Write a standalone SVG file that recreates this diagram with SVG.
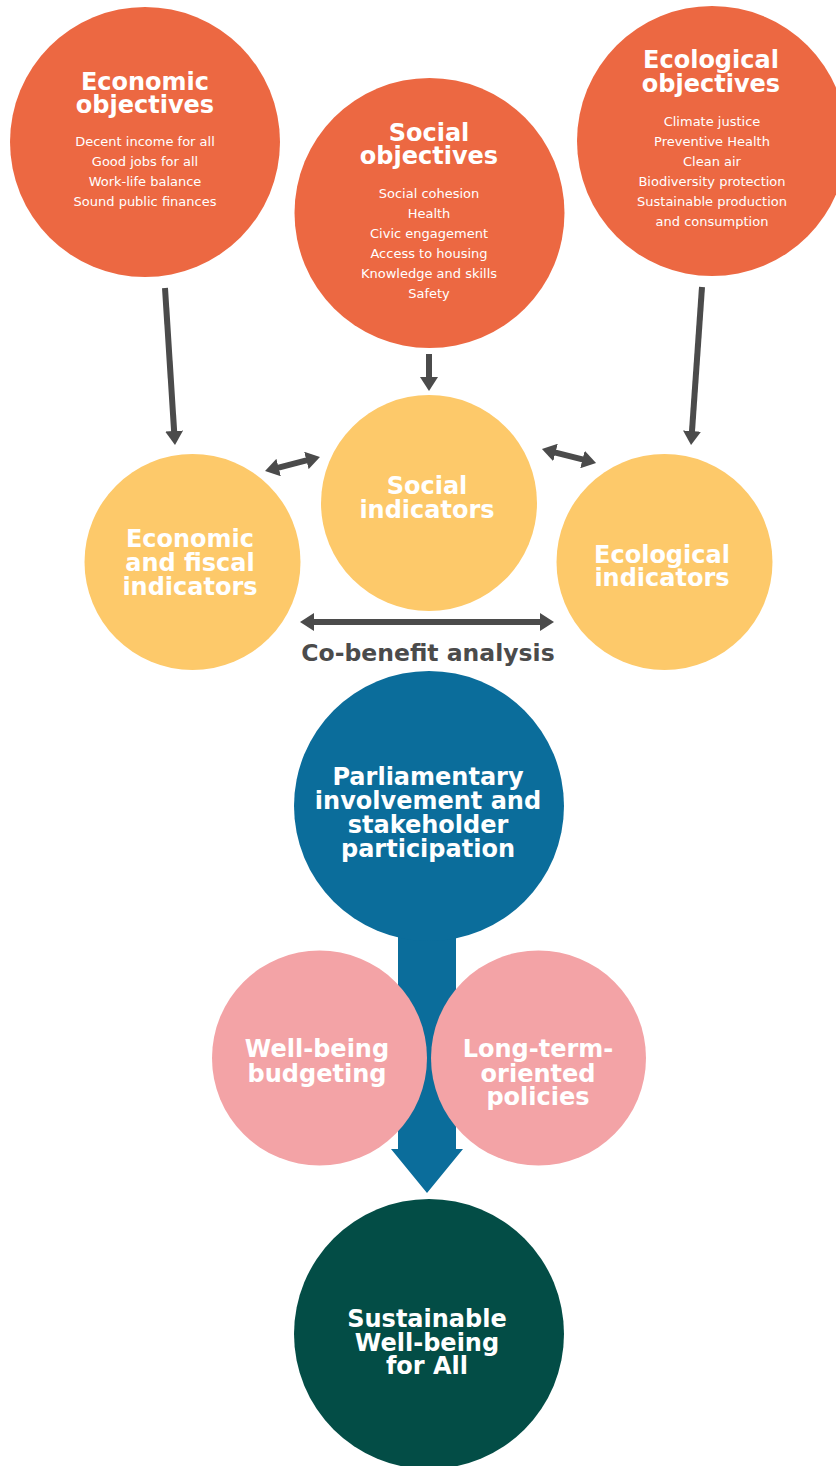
<svg xmlns="http://www.w3.org/2000/svg" width="836" height="1466" viewBox="0 0 836 1466">
<style>
.obj{fill:#EC6842}
.ind{fill:#FDC96A}
.pink{fill:#F3A3A6}
.t{font-family:"DejaVu Sans","Liberation Sans",sans-serif;font-weight:bold;font-size:24px;fill:#fff;text-anchor:middle}
.s{font-family:"DejaVu Sans","Liberation Sans",sans-serif;font-size:13px;fill:#fff;text-anchor:middle}
.ar{stroke:#4B4B4B;stroke-width:6;fill:none}
.lbl{font-family:"DejaVu Sans","Liberation Sans",sans-serif;font-weight:bold;font-size:23.5px;fill:#4B4B4B;text-anchor:middle}
</style>
<defs>
<marker id="ah" viewBox="0 0 14 18" refX="3" refY="9" markerWidth="14" markerHeight="18" markerUnits="userSpaceOnUse" orient="auto-start-reverse">
<path d="M0,0 L14,9 L0,18 Z" fill="#4B4B4B"/>
</marker>
</defs>
<rect width="836" height="1466" fill="#fff"/>

<g id="economic-objectives">
<circle class="obj" cx="145" cy="142" r="135"/>
<text class="t"><tspan x="145" y="90">Economic</tspan><tspan x="145" y="113">objectives</tspan></text>
<text class="s"><tspan x="145" y="146">Decent income for all</tspan><tspan x="145" y="166">Good jobs for all</tspan><tspan x="145" y="186">Work-life balance</tspan><tspan x="145" y="206">Sound public finances</tspan></text>
</g>

<g id="social-objectives">
<circle class="obj" cx="429.5" cy="213" r="135"/>
<text class="t"><tspan x="429" y="141">Social</tspan><tspan x="429" y="164">objectives</tspan></text>
<text class="s"><tspan x="429" y="198">Social cohesion</tspan><tspan x="429" y="218">Health</tspan><tspan x="429" y="238">Civic engagement</tspan><tspan x="429" y="258">Access to housing</tspan><tspan x="429" y="278">Knowledge and skills</tspan><tspan x="429" y="298">Safety</tspan></text>
</g>

<g id="ecological-objectives">
<circle class="obj" cx="712" cy="141" r="135"/>
<text class="t"><tspan x="711" y="68">Ecological</tspan><tspan x="711" y="92">objectives</tspan></text>
<text class="s"><tspan x="712" y="126">Climate justice</tspan><tspan x="712" y="146">Preventive Health</tspan><tspan x="712" y="166">Clean air</tspan><tspan x="712" y="186">Biodiversity protection</tspan><tspan x="712" y="206">Sustainable production</tspan><tspan x="712" y="226">and consumption</tspan></text>
</g>

<g id="social-indicators">
<circle class="ind" cx="429" cy="503" r="108"/>
<text class="t"><tspan x="427" y="494">Social</tspan><tspan x="427" y="518">indicators</tspan></text>
</g>

<g id="economic-indicators">
<circle class="ind" cx="192.5" cy="562" r="108"/>
<text class="t"><tspan x="190" y="547">Economic</tspan><tspan x="190" y="571">and fiscal</tspan><tspan x="190" y="595">indicators</tspan></text>
</g>

<g id="ecological-indicators">
<circle class="ind" cx="664.5" cy="562" r="108"/>
<text class="t"><tspan x="662" y="563">Ecological</tspan><tspan x="662" y="586">indicators</tspan></text>
</g>

<g id="connectors">
<line class="ar" x1="165" y1="288" x2="174.3" y2="434" marker-end="url(#ah)"/>
<line class="ar" x1="702" y1="287" x2="691.8" y2="434" marker-end="url(#ah)"/>
<line class="ar" x1="429" y1="354" x2="429" y2="380" marker-end="url(#ah)"/>
<line class="ar" x1="275.7" y1="468.3" x2="309.3" y2="459.7" marker-start="url(#ah)" marker-end="url(#ah)"/>
<line class="ar" x1="552.6" y1="451.8" x2="585.4" y2="460.2" marker-start="url(#ah)" marker-end="url(#ah)"/>
<line class="ar" x1="311" y1="622" x2="543" y2="622" marker-start="url(#ah)" marker-end="url(#ah)"/>
<text class="lbl" x="428" y="661">Co-benefit analysis</text>
<path id="flow-arrow" d="M398,900 L398,1149 L391,1149 L427,1193 L463,1149 L456,1149 L456,900 Z" fill="#0B6D9B"/>
</g>

<g id="parliamentary">
<circle cx="429" cy="806" r="135" fill="#0B6D9B"/>
<text class="t"><tspan x="428" y="785">Parliamentary</tspan><tspan x="428" y="809">involvement and</tspan><tspan x="428" y="833">stakeholder</tspan><tspan x="428" y="857">participation</tspan></text>
</g>

<g id="well-being-budgeting">
<circle class="pink" cx="319.5" cy="1058" r="107.5"/>
<text class="t"><tspan x="317" y="1057">Well-being</tspan><tspan x="317" y="1082">budgeting</tspan></text>
</g>

<g id="long-term-policies">
<circle class="pink" cx="538.5" cy="1058" r="107.5"/>
<text class="t"><tspan x="538" y="1057">Long-term-</tspan><tspan x="538" y="1082">oriented</tspan><tspan x="538" y="1105">policies</tspan></text>
</g>

<g id="sustainable-well-being">
<circle cx="429" cy="1334" r="135" fill="#034D46"/>
<text class="t"><tspan x="427" y="1327">Sustainable</tspan><tspan x="427" y="1351">Well-being</tspan><tspan x="427" y="1374">for All</tspan></text>
</g>
</svg>
